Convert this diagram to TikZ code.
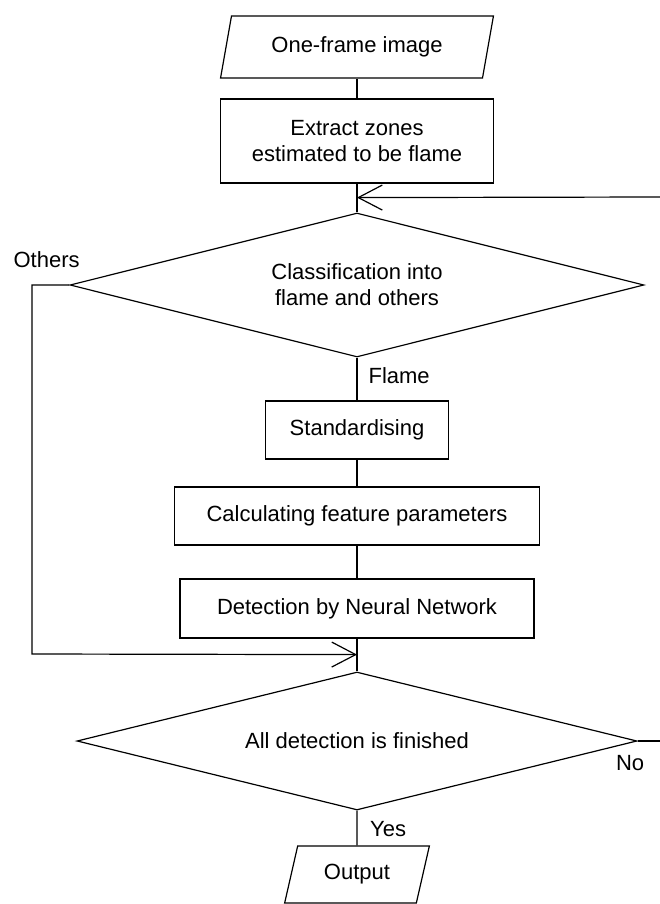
\documentclass[tikz,border=0pt]{standalone}
\usepackage{fontspec}
\setmainfont{Liberation Sans}
\usetikzlibrary{positioning,shapes.geometric,arrows.meta}

\begin{document}
\begin{tikzpicture}[x=1pt,y=-1pt]
\useasboundingbox (0,0) rectangle (660,904);
% Draw flow chart
   \begin{scope}[ node distance=2cm,on grid,>={Straight Barb[length=24pt,width=25pt]},
                   line width=1.2pt,
                   font=\fontsize{22}{26}\selectfont,
                   block/.style={rectangle,draw,inner sep=0pt,align=center},
                   cond/.style={diamond,aspect=4,draw,inner sep=0pt,align=center},
                   io/.style={trapezium,trapezium left angle=70,trapezium right angle=110,
                              trapezium stretches=true,draw,inner sep=0pt},
                   lbl/.style={inner sep=2pt} ]
     \node [io,minimum width=273pt,minimum height=62pt]    (input)    at (357,47)              {One-frame image};
     \node [block,minimum width=273pt,minimum height=84pt] (extract)  [below=94pt of input]    {Extract zones\\estimated to be flame} edge (input);
     \node [cond,minimum width=574pt,minimum height=144pt] (classify) [below=144pt of extract] {Classification into\\flame and others} edge (extract);
     \node [block,minimum width=183pt,minimum height=58pt] (std)      [below=145pt of classify]{Standardising};
     \node [block,minimum width=365pt,minimum height=58pt] (calc)     [below=86pt of std]      {Calculating feature parameters} edge (std);
     \node [block,minimum width=354pt,minimum height=59pt] (detect)   [below=92.5pt of calc]   {Detection by Neural Network} edge (calc);
     \node [cond,minimum width=560pt,minimum height=138pt] (finish)   [below=132.5pt of detect]{All detection is finished} edge (detect);
     \node [io,minimum width=145pt,minimum height=57pt]    (output)   [below=133.5pt of finish]{Output};
     % join points of the loops
     \node [coordinate] (join1) [below=14pt of extract.south] {};
     \node [coordinate] (join2) [below=16pt of detect.south]  {};
     \coordinate (loop)  at (660,197);
     \coordinate (oc1)   at (32,285);
     \coordinate (oc2)   at (32,654);
     \coordinate (noend) at (660,741);
     \draw (classify) -- node [lbl,pos=0.41,right,xshift=9pt] {Flame} (std);
     \draw (finish) -- node [lbl,pos=0.54,right,xshift=10.5pt] {Yes} (output);
     \draw [->] (loop) -- (join1);
     \draw [->] (classify.west) -- (oc1) node [lbl,anchor=south west,xshift=-21pt,yshift=15pt] {Others} -- (oc2) -- (join2);
     \draw (finish.east) node [lbl,anchor=north,xshift=-7.5pt,yshift=-12pt] {No} -- (noend);
   \end{scope}
\end{tikzpicture}
\end{document}
